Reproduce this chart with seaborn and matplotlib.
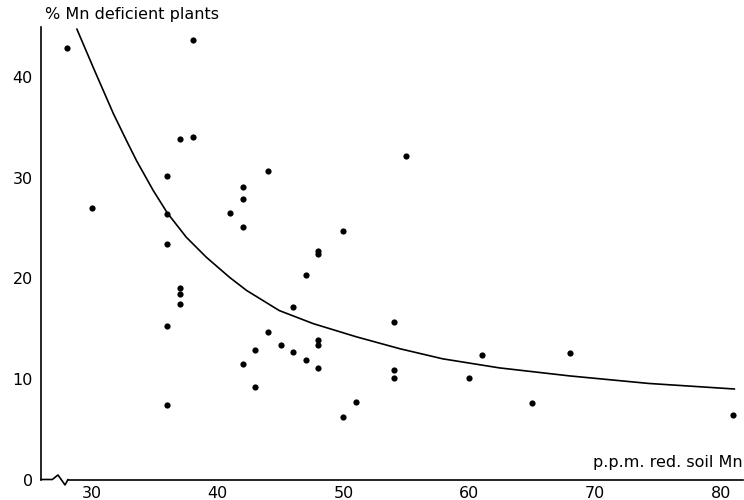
import matplotlib
matplotlib.use("Agg")
import matplotlib.pyplot as plt
import matplotlib.transforms as mtransforms
import seaborn as sns
import pandas as pd

# Scatter data: soil Mn (p.p.m.) vs % Mn deficient plants
mn_ppm = [28, 30, 36, 36, 36, 36, 36, 37, 37, 37, 37, 38, 38, 41, 42, 42, 42, 42,
          43, 43, 44, 44, 45, 46, 46, 47, 47, 48, 48, 48, 48, 48, 50, 50, 51,
          54, 54, 54, 55, 60, 61, 65, 68, 81]
pct_deficient = [42.9, 27.0, 30.2, 26.4, 23.4, 15.3, 7.4, 33.9, 19.0, 18.4, 17.5,
                 34.1, 43.7, 26.5, 29.1, 27.9, 25.1, 11.5, 12.9, 9.2, 30.7, 14.65,
                 13.4, 17.2, 12.7, 20.3, 11.9, 22.7, 22.4, 13.9, 13.4, 11.1, 24.7,
                 6.2, 7.7, 15.7, 10.9, 10.1, 32.2, 10.1, 12.4, 7.6, 12.6, 6.4]

# Fitted curve
curve_x = [28.8, 30.2, 31.7, 32.75, 33.55, 34.87, 36.0, 37.5, 39.1, 40.95, 42.3,
           44.9, 47.6, 51.0, 54.5, 57.9, 62.4, 68.0, 74.3, 81.1]
curve_y = [44.8, 40.7, 36.4, 33.7, 31.7, 28.75, 26.5, 24.1, 22.1, 20.1, 18.8,
           16.8, 15.5, 14.2, 13.0, 12.0, 11.1, 10.3, 9.55, 9.0]

x_ticks = [30, 40, 50, 60, 70, 80]
y_ticks = [0, 10, 20, 30, 40]

pts = pd.DataFrame({"mn": mn_ppm, "pct": pct_deficient})
crv = pd.DataFrame({"mn": curve_x, "pct": curve_y})

sns.set_theme(style="white")
plt.rcParams["font.family"] = ["DejaVu Sans"]

fig = plt.figure(figsize=(7.44, 5.0), dpi=100)
ax = fig.add_axes([0.0551, 0.041, 0.944, 0.905])

sns.lineplot(data=crv, x="mn", y="pct", ax=ax, color="black", linewidth=1.2,
             sort=False, estimator=None)
sns.scatterplot(data=pts, x="mn", y="pct", ax=ax, color="black", s=20,
                edgecolor="black", linewidth=0)

ax.set_xlim(25.95, 81.8)
ax.set_ylim(0, 45)
ax.set_xticks(x_ticks)
ax.set_yticks(y_ticks)
ax.set_xlabel("")
ax.set_ylabel("")
ax.tick_params(axis="both", direction="in", length=6, width=1.0,
               labelsize=11.5, colors="black", pad=5)
ax.tick_params(axis="y", pad=6)

for s in ["top", "right"]:
    ax.spines[s].set_visible(False)
for s in ["left", "bottom"]:
    ax.spines[s].set_color("black")
    ax.spines[s].set_linewidth(1.2)

# axis break on the x axis
ax.spines["bottom"].set_bounds(28.1, 81.8)
trans = mtransforms.blended_transform_factory(ax.transData, ax.transAxes)
ax.plot([25.95, 26.85, 27.3, 27.86, 28.1], [0, 0, 0.010, -0.012, 0],
        transform=trans, color="black", linewidth=1.2, clip_on=False)

ax.text(0.005, 1.027, "% Mn deficient plants", transform=ax.transAxes,
        ha="left", va="center", fontsize=11.5, color="black")
ax.text(0.999, 0.038, "p.p.m. red. soil Mn", transform=ax.transAxes,
        ha="right", va="center", fontsize=11.5, color="black")

fig.savefig("out.png", dpi=100, facecolor="white")
